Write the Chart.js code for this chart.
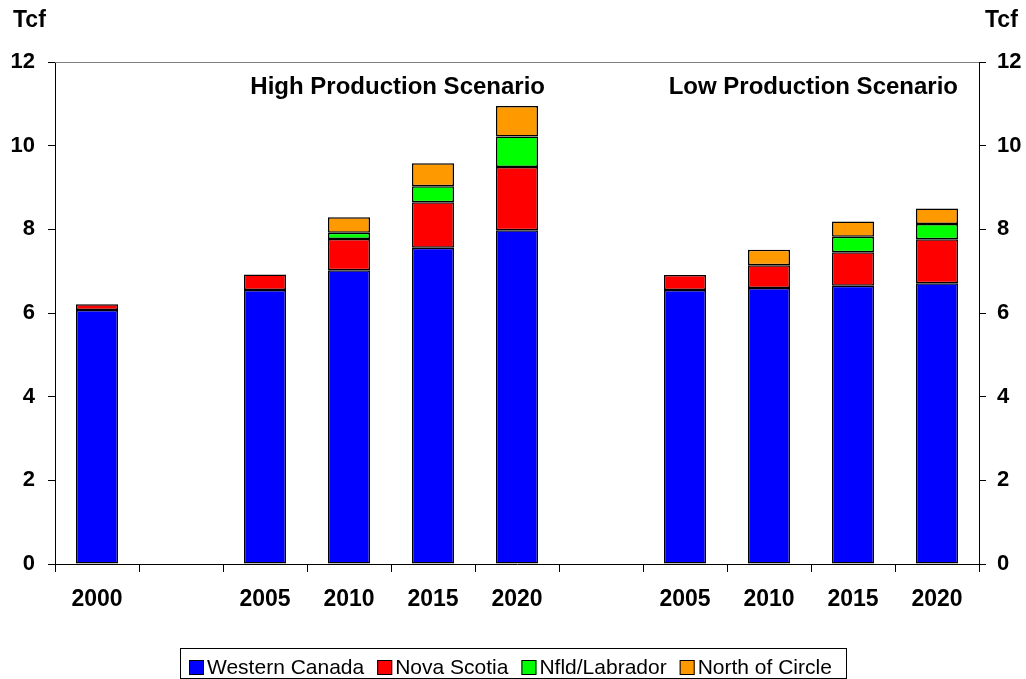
<!DOCTYPE html>
<html>
<head>
<meta charset="utf-8">
<script src="https://cdn.jsdelivr.net/npm/chart.js@4/dist/chart.umd.min.js"></script>
<style>
  html, body { margin: 0; padding: 0; background: #fff; }
  #wrap { width: 1026px; height: 679px; position: relative; }
</style>
</head>
<body>
<div id="wrap"><canvas id="chart"></canvas></div>
<script>
// slots: 2000, gap, high scenario 2005-2020, gap, low scenario 2005-2020
const years = ['2000', '', '2005', '2010', '2015', '2020', '', '2005', '2010', '2015', '2020'];
const westernCanada = [6.07, null, 6.55, 7.02, 7.56, 7.98, null, 6.55, 6.60, 6.65, 6.71];
const novaScotia    = [0.14, null, 0.37, 0.75, 1.09, 1.51, null, 0.36, 0.54, 0.80, 1.05];
const nfldLabrador  = [null, null, null, 0.15, 0.38, 0.73, null, null, null, 0.37, 0.37];
const northOfCircle = [null, null, null, 0.37, 0.55, 0.73, null, null, 0.37, 0.37, 0.37];
const yTicks = [0, 2, 4, 6, 8, 10, 12];

const FONT = '"Liberation Sans", Arial, sans-serif';

function series(label, data, color) {
  return {
    label: label,
    data: data,
    backgroundColor: color,
    borderColor: '#000',
    borderWidth: 1.5,
    borderSkipped: false,
    inflateAmount: 0,
    barPercentage: 0.5,
    categoryPercentage: 1.0
  };
}

// axis captions, scenario headings, plot top border and the legend
const decorations = {
  id: 'decorations',
  afterDraw(chart) {
    const c = chart.ctx;
    const x = chart.scales.x;
    const area = chart.chartArea;
    c.save();
    c.fillStyle = '#000';
    c.font = 'bold 23px ' + FONT;
    c.textBaseline = 'middle';
    c.textAlign = 'left';
    c.fillText('Tcf', 13, 21);
    c.fillText('Tcf', 985, 21);

    const half = (x.getPixelForValue(1) - x.getPixelForValue(0)) / 4;
    c.font = 'bold 24px ' + FONT;
    c.textAlign = 'right';
    c.fillText('High Production Scenario', x.getPixelForValue(5) + half + 7, area.top + 25);
    c.fillText('Low Production Scenario', x.getPixelForValue(10) + half, area.top + 25);

    c.strokeStyle = '#808080';
    c.lineWidth = 1;
    c.beginPath();
    c.moveTo(area.left, Math.round(area.top) + 0.5);
    c.lineTo(area.right, Math.round(area.top) + 0.5);
    c.stroke();

    // legend: square, small gap, label; whole row centred in a framed box
    c.font = '21px ' + FONT;
    c.textAlign = 'left';
    const sq = 15, gap = 3, between = 13, padL = 9, padR = 14;
    const items = chart.data.datasets.map(d => ({
      label: d.label, color: d.backgroundColor, w: c.measureText(d.label).width
    }));
    let total = padL + padR;
    items.forEach((it, i) => { total += sq + gap + it.w + (i ? between : 0); });
    const boxL = Math.round(chart.width / 2 - total / 2);
    const boxT = 648, boxH = 30;
    c.strokeStyle = '#000';
    c.strokeRect(boxL + 0.5, boxT + 0.5, Math.round(total), boxH);
    let cx = boxL + padL;
    items.forEach((it) => {
      c.fillStyle = it.color;
      c.fillRect(cx, 660, sq, sq);
      c.strokeStyle = '#000';
      c.strokeRect(cx + 0.5, 660.5, sq - 1, sq - 1);
      c.fillStyle = '#000';
      c.fillText(it.label, cx + sq + gap, 668);
      cx += sq + gap + it.w + between;
    });
    c.restore();
  }
};

const yScale = (pos) => ({
  position: pos,
  min: 0,
  max: 12,
  afterBuildTicks: (s) => { s.ticks = yTicks.map(v => ({ value: v })); },
  afterFit: (s) => { s.width = pos === 'left' ? 55 : 47; },
  border: { display: true, color: '#000', width: 1 },
  grid: {
    drawOnChartArea: false,
    drawTicks: true,
    tickLength: 7,
    tickColor: '#000'
  },
  ticks: {
    color: '#000',
    padding: pos === 'left' ? 13 : 11,
    font: { family: FONT, size: 22, weight: 'bold' }
  }
});

new Chart(document.getElementById('chart'), {
  type: 'bar',
  data: {
    labels: years,
    datasets: [
      series('Western Canada', westernCanada, '#0000FF'),
      series('Nova Scotia', novaScotia, '#FF0000'),
      series('Nfld/Labrador', nfldLabrador, '#00FF00'),
      series('North of Circle', northOfCircle, '#FF9900')
    ]
  },
  options: {
    responsive: true,
    maintainAspectRatio: false,
    animation: false,
    layout: { padding: { top: 62, bottom: 43, left: 0, right: 0 } },
    plugins: {
      tooltip: { enabled: false },
      legend: { display: false }
    },
    scales: {
      x: {
        stacked: true,
        offset: true,
        afterFit: (s) => { s.height = 72; },
        border: { display: true, color: '#000', width: 1 },
        grid: {
          offset: true,
          drawOnChartArea: false,
          drawTicks: true,
          tickLength: 8,
          tickColor: '#000'
        },
        ticks: {
          color: '#000',
          padding: 14,
          maxRotation: 0,
          autoSkip: false,
          font: { family: FONT, size: 23, weight: 'bold' }
        }
      },
      y: Object.assign(yScale('left'), { stacked: true }),
      y2: yScale('right')
    }
  },
  plugins: [decorations]
});
</script>
</body>
</html>
